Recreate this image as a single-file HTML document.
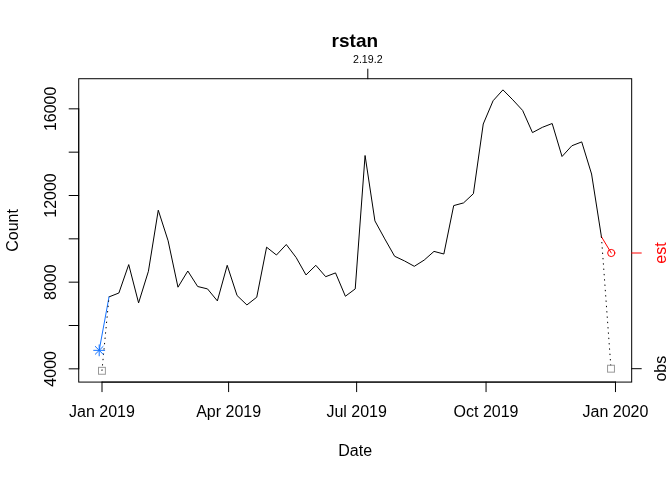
<!DOCTYPE html>
<html><head><meta charset="utf-8"><style>
html,body{margin:0;padding:0;background:#fff;width:672px;height:480px;overflow:hidden}
svg{display:block;will-change:transform}
text{font-family:"Liberation Sans",sans-serif;font-size:16px;fill:#000}
</style></head><body>
<svg width="672" height="480" viewBox="0 0 672 480">
<rect width="672" height="480" fill="#fff"/>
<g fill="none" stroke-width="1" stroke-linecap="round">
<rect x="78.72" y="78.72" width="552.96" height="303.36" fill="none" stroke="#000" stroke-width="1"/>
<path d="M78.72,368.83V108.83" stroke="#000"/>
<path d="M78.72,368.83H69.12" stroke="#000"/>
<path d="M78.72,325.5H69.12" stroke="#000"/>
<path d="M78.72,282.16H69.12" stroke="#000"/>
<path d="M78.72,238.83H69.12" stroke="#000"/>
<path d="M78.72,195.5H69.12" stroke="#000"/>
<path d="M78.72,152.16H69.12" stroke="#000"/>
<path d="M78.72,108.83H69.12" stroke="#000"/>
<path d="M102,382.08H615.48" stroke="#000"/>
<path d="M102,382.08V391.68" stroke="#000"/>
<path d="M228.61,382.08V391.68" stroke="#000"/>
<path d="M356.63,382.08V391.68" stroke="#000"/>
<path d="M486.06,382.08V391.68" stroke="#000"/>
<path d="M615.48,382.08V391.68" stroke="#000"/>
<path d="M367.8,78.72V69.12" stroke="#000"/>
<path d="M631.68,253H641.28" stroke="#f00"/>
<path d="M631.68,368.7H641.28" stroke="#000"/>
<polyline fill="none" stroke="#000" stroke-linejoin="round" stroke-linecap="round" points="109.03,296.9 118.88,293 128.73,264.6 138.58,302.9 148.42,271.25 158.27,210.2 168.12,240.8 177.97,287.2 187.81,271 197.66,286.5 207.51,288.9 217.36,300.9 227.21,265.3 237.05,295.5 246.9,304.95 256.75,297.2 266.6,247.2 276.44,255 286.29,244.5 296.14,257.5 305.99,274.95 315.83,265.3 325.68,276.7 335.53,272.9 345.38,296.25 355.22,288.9 365.07,155.5 374.92,220.9 384.77,238.9 394.61,256.25 404.46,260.9 414.31,266.3 424.16,260.1 434,251.4 443.85,254 453.7,205.6 463.55,202.9 473.4,193.7 483.24,124 493.09,100.75 502.94,89.85 512.79,99.8 522.63,110.45 532.48,132.6 542.33,127.35 552.18,123.5 562.02,156.5 571.87,145.75 581.72,141.9 591.57,174 601.41,236.7"/>
<path d="M99.19,350.35L109.03,296.9" stroke="#1473ff" stroke-linecap="round"/>
<path d="M601.41,236.7L611.26,253" stroke="#f00" stroke-linecap="round"/>
<path d="M101.95,370.8L109.03,296.9" stroke="#000" stroke-dasharray="1.333 4" stroke-linecap="butt"/>
<path d="M601.41,236.7L611,368.7" stroke="#000" stroke-dasharray="1.333 4" stroke-linecap="butt"/>
<rect x="98.5" y="367.35" width="6.9" height="6.9" fill="none" stroke="#999"/>
<rect x="607.55" y="365.25" width="6.9" height="6.9" fill="none" stroke="#999"/>
<circle cx="611.26" cy="253" r="3.6" fill="none" stroke="#f00"/>
<path d="M93.69,350.35H104.69M99.19,344.85V355.85M95.29,346.45L103.09,354.25M95.29,354.25L103.09,346.45" stroke="#1473ff"/>
</g>
<g>
<text x="354.85" y="46.9" style="font-size:19px;font-weight:bold" text-anchor="middle">rstan</text>
<text x="367.8" y="63" style="font-size:10.67px" text-anchor="middle">2.19.2</text>
<text x="102" y="416.7" text-anchor="middle">Jan 2019</text>
<text x="228.61" y="416.7" text-anchor="middle">Apr 2019</text>
<text x="356.63" y="416.7" text-anchor="middle">Jul 2019</text>
<text x="486.06" y="416.7" text-anchor="middle">Oct 2019</text>
<text x="615.48" y="416.7" text-anchor="middle">Jan 2020</text>
<text x="355.2" y="455.7" text-anchor="middle">Date</text>
<text transform="translate(56,368.83) rotate(-90)" text-anchor="middle">4000</text>
<text transform="translate(56,282.16) rotate(-90)" text-anchor="middle">8000</text>
<text transform="translate(56,195.5) rotate(-90)" text-anchor="middle">12000</text>
<text transform="translate(56,108.83) rotate(-90)" text-anchor="middle">16000</text>
<text transform="translate(17.5,230.4) rotate(-90)" text-anchor="middle">Count</text>
<text transform="translate(666.25,253) rotate(-90)" text-anchor="middle" style="fill:#f00">est</text>
<text transform="translate(666.25,368.7) rotate(-90)" text-anchor="middle">obs</text>
</g>
</svg>
</body></html>
